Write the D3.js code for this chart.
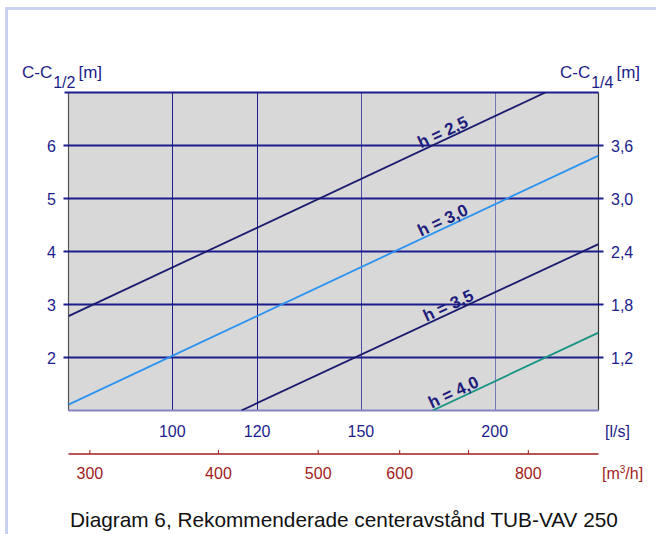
<!DOCTYPE html>
<html><head><meta charset="utf-8">
<script src="https://cdn.jsdelivr.net/npm/d3@7"></script>
<style>body{margin:0;background:#fff}svg{display:block}text{font-family:"Liberation Sans",Arial,sans-serif}</style>
</head><body><svg id="c" width="656" height="534"></svg>
<script>
// ---- data ----
const flowDomain = [80, 250];                 // l/s
const m3hDomain = [286, 936];                 // m3/h (secondary axis as drawn)
const yDomain = [1, 7];                       // C-C 1/2 [m]
const lsTicks = [100, 120, 150, 200];
const m3hTicks = [300, 400, 500, 600, 700, 800];
const m3hLabels = ["300", "400", "500", "600", "", "800"];
const leftTicks = [2, 3, 4, 5, 6];
const rightTickLabels = ["1,2", "1,8", "2,4", "3,0", "3,6"];
const seriesNames = ["h = 2,5", "h = 3,0", "h = 3,5", "h = 4,0"];
const seriesH25 = [{q: 80, c: 2.78}, {q: 223, c: 7.0}];
const seriesH30 = [{q: 80, c: 1.11}, {q: 250, c: 5.81}];
const seriesH35 = [{q: 116, c: 1.0}, {q: 250, c: 4.14}];
const seriesH40 = [{q: 175, c: 1.0}, {q: 250, c: 2.47}];
const labelQ = [171, 171, 173, 175];
const title = "Diagram 6, Rekommenderade centeravstånd TUB-VAV 250";

// ---- layout ----
const L = 68.5, R = 598.5, T = 92.5, B = 410.5;
const svg = d3.select("#c");
const navy = "#1c1c8c", red = "#a01c1c";
const x = d3.scaleLog().domain(flowDomain).range([L, R]);
const xm = d3.scaleLog().domain(m3hDomain).range([L, R]);
const y = d3.scaleLinear().domain(yDomain).range([B, T]);

// frame
svg.append("path").attr("d", "M6.5,534 V8.5 H656").attr("fill", "none").attr("stroke", "#c9d3ee").attr("stroke-width", 3);

// plot background
svg.append("rect").attr("x", L).attr("y", T).attr("width", R - L).attr("height", B - T).attr("fill", "#d8d8d8");

// vertical grid
const vcol = {100: navy, 120: navy, 150: "#4c4ca4", 200: "#7878b8"};
svg.append("g").selectAll("line").data(lsTicks).join("line")
  .attr("x1", d => Math.round(x(d)) + 0.5).attr("x2", d => Math.round(x(d)) + 0.5)
  .attr("y1", T).attr("y2", B).attr("stroke", d => vcol[d]).attr("stroke-width", 1);

// plot side borders
svg.append("line").attr("x1", L).attr("x2", L).attr("y1", T).attr("y2", B).attr("stroke", "#555").attr("stroke-width", 1.2);
svg.append("line").attr("x1", R).attr("x2", R).attr("y1", T).attr("y2", B).attr("stroke", "#333").attr("stroke-width", 1.2);

// horizontal grid + ticks
svg.append("g").selectAll("line").data(leftTicks).join("line")
  .attr("x1", L - 5).attr("x2", R + 5).attr("y1", d => y(d)).attr("y2", d => y(d))
  .attr("stroke", navy).attr("stroke-width", 2);
svg.append("line").attr("x1", L - 4).attr("x2", R).attr("y1", T).attr("y2", T).attr("stroke", navy).attr("stroke-width", 2);
svg.append("line").attr("x1", L).attr("x2", R).attr("y1", B).attr("y2", B).attr("stroke", "#8484c4").attr("stroke-width", 2);

// series lines (clipped)
svg.append("clipPath").attr("id", "pc").append("rect").attr("x", L).attr("y", T).attr("width", R - L).attr("height", B - T);
const series = [seriesH25, seriesH30, seriesH35, seriesH40];
const colors = ["#1a1a6e", "#2b93f2", "#1a1a6e", "#169484"];
const line = d3.line().x(d => x(d.q)).y(d => y(d.c));
const g = svg.append("g").attr("clip-path", "url(#pc)");
series.forEach((s, i) => {
  g.append("path").attr("d", line(s)).attr("fill", "none").attr("stroke", colors[i]).attr("stroke-width", 1.8);
});

// series labels along lines
series.forEach((s, i) => {
  const [a, b] = s;
  const ang = Math.atan2(y(b.c) - y(a.c), x(b.q) - x(a.q)) * 180 / Math.PI;
  const t = (Math.log(labelQ[i]) - Math.log(a.q)) / (Math.log(b.q) - Math.log(a.q));
  const cv = a.c + t * (b.c - a.c);
  svg.append("text").attr("transform", `translate(${x(labelQ[i])},${y(cv)}) rotate(${ang})`)
    .attr("dy", -2).attr("font-size", 17).attr("font-weight", "bold").attr("fill", "#1c1c7c")
    .text(seriesNames[i]);
});

// left tick labels
svg.append("g").selectAll("text").data(leftTicks).join("text")
  .attr("x", 56).attr("y", d => y(d) + 6).attr("text-anchor", "end")
  .attr("font-size", 16).attr("fill", navy).text(d => d);
// right tick labels
svg.append("g").selectAll("text").data(leftTicks).join("text")
  .attr("x", 611).attr("y", d => y(d) + 6)
  .attr("font-size", 16).attr("fill", navy).text((d, i) => rightTickLabels[i]);

// axis titles
function ccTitle(xp, sub) {
  const t = svg.append("text").attr("x", xp).attr("y", 78).attr("font-size", 17).attr("fill", navy);
  t.append("tspan").text("C-C");
  t.append("tspan").attr("dy", 10).attr("dx", 1).attr("font-size", 16).text(sub);
  t.append("tspan").attr("dy", -10).attr("dx", 3).text("[m]");
}
ccTitle(22, "1/2");
ccTitle(560, "1/4");

// l/s tick labels
svg.append("g").selectAll("text").data(lsTicks).join("text")
  .attr("x", d => x(d)).attr("y", 437).attr("text-anchor", "middle")
  .attr("font-size", 16).attr("fill", navy).text(d => d);
svg.append("text").attr("x", 605).attr("y", 437).attr("font-size", 16).attr("fill", navy).text("[l/s]");

// m3/h axis
svg.append("line").attr("x1", L).attr("x2", R).attr("y1", 454).attr("y2", 454).attr("stroke", red).attr("stroke-width", 1.5);
svg.append("g").selectAll("line").data(m3hTicks).join("line")
  .attr("x1", d => xm(d)).attr("x2", d => xm(d)).attr("y1", 450).attr("y2", 454)
  .attr("stroke", red).attr("stroke-width", 1);
svg.append("g").selectAll("text").data(m3hTicks).join("text")
  .attr("x", d => xm(d)).attr("y", 479).attr("text-anchor", "middle")
  .attr("font-size", 16).attr("fill", red).text((d, i) => m3hLabels[i]);
const mt = svg.append("text").attr("x", 602).attr("y", 479).attr("font-size", 16).attr("fill", red);
mt.append("tspan").text("[m");
mt.append("tspan").attr("font-size", 10).attr("dy", -6).text("3");
mt.append("tspan").attr("dy", 6).text("/h]");

// title
svg.append("text").attr("x", 70).attr("y", 527).attr("font-size", 20.8).attr("fill", "#111").text(title);
</script></body></html>
